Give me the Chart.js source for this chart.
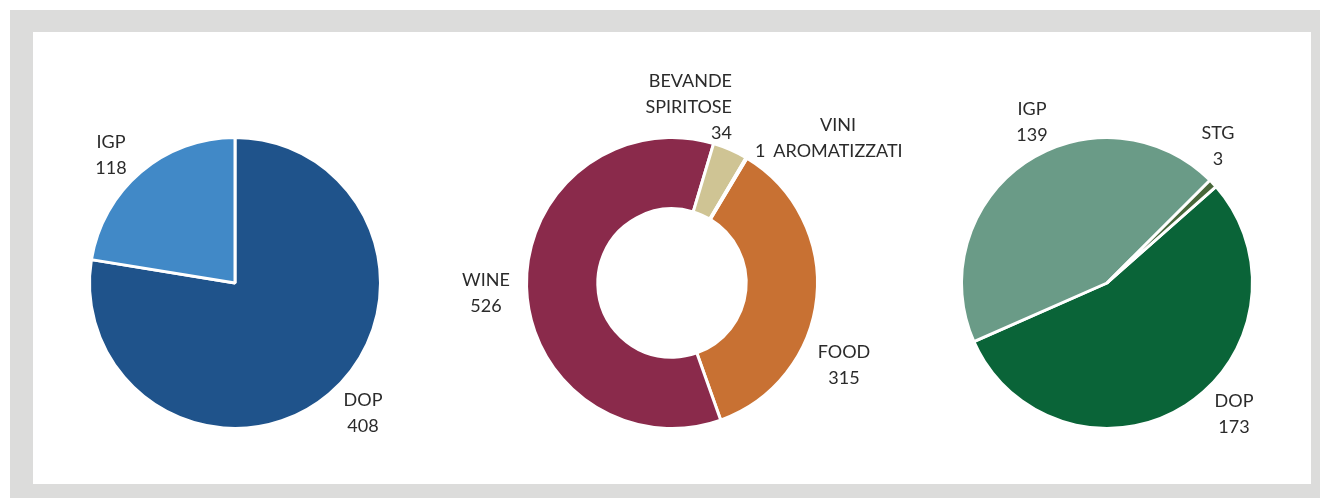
<!DOCTYPE html>
<html>
<head>
<meta charset="utf-8">
<script src="https://cdn.jsdelivr.net/npm/chart.js@4"></script>
<style>
    html, body { margin: 0; padding: 0; width: 1320px; height: 498px; overflow: hidden; background: #fff; }
    .frame { position: absolute; left: 10px; top: 10px; width: 1310px; height: 488px; background: #dcdcdb; }
    .panel { position: absolute; left: 33px; top: 32px; width: 1278px; height: 452px; background: #fff; }
    .box { position: absolute; top: 58px; height: 450px; }
</style>
</head>
<body>
<div class="frame"></div>
<div class="panel"></div>
<div class="box" style="left:20px"><canvas id="c1"></canvas></div>
<div class="box" style="left:892px"><canvas id="c3"></canvas></div>
<div class="box" style="left:422px"><canvas id="c2"></canvas></div>
<script>
// chart 1 - DOP / IGP
const cats1 = ['DOP', 'IGP'];
const vals1 = [408, 118];

// chart 2 - sectors
const cats2 = ['FOOD', 'WINE', 'BEVANDE SPIRITOSE', 'VINI AROMATIZZATI'];
const vals2 = [315, 526, 34, 1];

// chart 3 - DOP / IGP / STG
const cats3 = ['DOP', 'IGP', 'STG'];
const vals3 = [173, 139, 3];

const colors1 = ['#1f538b', '#4189c7'];
const colors2 = ['#c87133', '#8a2a4b', '#cfc494', '#b84f80'];
const colors3 = ['#0a6438', '#6a9b87', '#48673a'];

// label placement relative to pie centre: dx, first line dy, alignment
const labelPos1 = [
    { dx: 128, dy: 117, align: 'center' },
    { dx: -124, dy: -141, align: 'center' },
];
const labelPos2 = [
    { dx: 172, dy: 69, align: 'center' },
    { dx: -186, dy: -3, align: 'center' },
    { dx: 60, dy: -202, align: 'right' },
    { dx: 166, dy: -158, align: 'center', valueLeft: true },
];
const labelPos3 = [
    { dx: 127, dy: 118, align: 'center' },
    { dx: -75, dy: -174, align: 'center' },
    { dx: 111, dy: -150, align: 'center' },
];

const FONT = '18px Lato, "Open Sans", sans-serif';
const LINE = 26;

const outLabels = {
    id: 'outLabels',
    afterDraw(chart, args, opts) {
        const ctx = chart.ctx;
        const arc = chart.getDatasetMeta(0).data[0];
        const cx = arc.x, cy = arc.y;
        const labels = chart.data.labels;
        const values = chart.data.datasets[0].data;
        ctx.save();
        ctx.font = FONT;
        ctx.fillStyle = '#2b2b2b';
        ctx.textBaseline = 'middle';
        labels.forEach((name, i) => {
            const p = opts.pos[i];
            const x = cx + p.dx;
            const y = cy + p.dy;
            ctx.textAlign = p.align;
            const words = name.split(' ');
            if (p.valueLeft) {
                ctx.textAlign = 'center';
                words.forEach((w, j) => ctx.fillText(w, x, y + j * LINE));
                const w = ctx.measureText(words[words.length - 1]).width;
                ctx.textAlign = 'right';
                ctx.fillText(String(values[i]), x - w / 2 - 8, y + (words.length - 1) * LINE);
            } else {
                words.concat([String(values[i])]).forEach((w, j) => {
                    ctx.fillText(w, x, y + j * LINE);
                });
            }
        });
        ctx.restore();
    }
};

function makePie(id, type, labels, data, colors, rotation, pos, cutout, width) {
    const c = document.getElementById(id);
    c.width = width;
    c.height = 450;
    c.style.width = width + 'px';
    c.style.height = '450px';
    const side = (width - 294) / 2;
    return new Chart(c, {
        type: type,
        data: {
            labels: labels,
            datasets: [{
                data: data,
                backgroundColor: colors,
                borderColor: '#ffffff',
                borderWidth: 3,
            }],
        },
        options: {
            responsive: false,
            animation: false,
            rotation: rotation,
            cutout: cutout,
            layout: { padding: { left: side, right: side, top: 78, bottom: 78 } },
            plugins: {
                legend: { display: false },
                tooltip: { enabled: false },
                outLabels: { pos: pos },
            },
        },
        plugins: [outLabels],
    });
}

makePie('c1', 'pie', cats1, vals1, colors1, 0, labelPos1, 0, 430);
makePie('c2', 'doughnut', cats2, vals2, colors2, 31, labelPos2, '51%', 500);
makePie('c3', 'pie', cats3, vals3, colors3, 48.5, labelPos3, 0, 430);
</script>
</body>
</html>
